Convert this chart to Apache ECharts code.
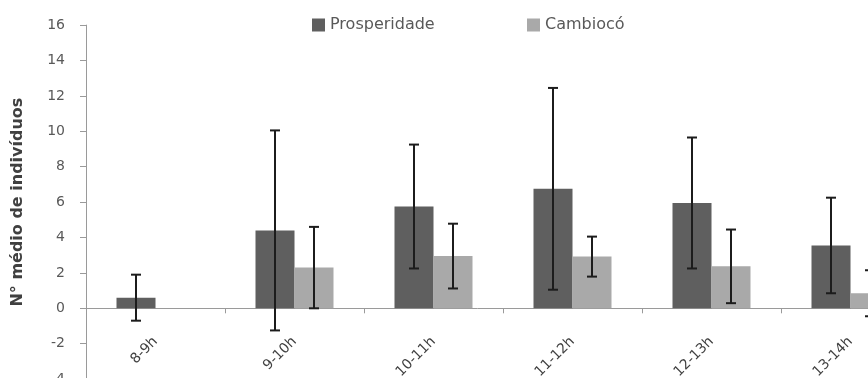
<!DOCTYPE html>
<html>
<head>
<meta charset="utf-8">
<script src="https://cdn.jsdelivr.net/npm/echarts@6/dist/echarts.min.js"></script>
<style>
html,body{margin:0;padding:0;background:#fff;}
#main{width:868px;height:378px;}
</style>
</head>
<body>
<div id="main"></div>
<script>
var categories = ['8-9h', '9-10h', '10-11h', '11-12h', '12-13h', '13-14h'];
var prosperidade = [0.6, 4.4, 5.75, 6.75, 5.95, 3.55];
var prosperidadeErr = [1.3, 5.65, 3.5, 5.7, 3.7, 2.7];
var cambioco = [0, 2.3, 2.95, 2.92, 2.37, 0.85];
var cambiocoErr = [0, 2.3, 1.83, 1.13, 2.08, 1.3];
var yTicks = [-4, -2, 0, 2, 4, 6, 8, 10, 12, 14, 16];

var BAR_W = 39;
var FONT = '"DejaVu Sans", "Liberation Sans", sans-serif';
var GRID_TOP = 25.1, GRID_H = 354, Y_MIN = -4, Y_MAX = 16;
var ZERO_SHIFT = GRID_H * (0 - Y_MIN) / (Y_MAX - Y_MIN);

function errSeries(means, errs, offset) {
  return {
    type: 'custom',
    silent: true,
    z: 10,
    data: means.map(function (m, i) { return [i, m, errs[i]]; }),
    encode: { x: 0, y: 1 },
    renderItem: function (params, api) {
      var e = api.value(2);
      if (!e) return null;
      var i = api.value(0), m = api.value(1);
      var top = api.coord([i, m + e]);
      var bot = api.coord([i, m - e]);
      var x = top[0] + offset;
      var cap = 5;
      var st = { stroke: '#1c1c1c', lineWidth: 2 };
      return {
        type: 'group',
        children: [
          { type: 'line', shape: { x1: x, y1: top[1], x2: x, y2: bot[1] }, style: st },
          { type: 'line', shape: { x1: x - cap, y1: top[1], x2: x + cap, y2: top[1] }, style: st },
          { type: 'line', shape: { x1: x - cap, y1: bot[1], x2: x + cap, y2: bot[1] }, style: st }
        ]
      };
    }
  };
}

var legendCommon = {
  top: 17, padding: 0, itemWidth: 13, itemHeight: 13, icon: 'rect', itemGap: 5,
  textStyle: { fontSize: 16, color: '#595959', fontFamily: FONT }
};

var chart = echarts.init(document.getElementById('main'), null, { renderer: 'canvas' });
chart.setOption({
  animation: false,
  backgroundColor: '#ffffff',
  textStyle: { fontFamily: FONT },
  legend: [
    Object.assign({ left: 312, data: ['Prosperidade'] }, legendCommon),
    Object.assign({ left: 527, data: ['Cambiocó'] }, legendCommon)
  ],
  grid: { left: 86, top: GRID_TOP, width: 834, height: GRID_H, containLabel: false, outerBoundsMode: 'none' },
  xAxis: {
    type: 'category',
    data: categories,
    offset: -ZERO_SHIFT,
    axisLine: { onZero: false, lineStyle: { color: '#9a9a9a', width: 1 } },
    axisTick: { show: true, length: 5, lineStyle: { color: '#9a9a9a' } },
    axisLabel: { rotate: 45, margin: 31, fontSize: 14, color: '#404040', fontFamily: FONT }
  },
  yAxis: {
    type: 'value',
    min: Y_MIN, max: Y_MAX, interval: 2,
    name: 'N° médio de indivíduos',
    nameLocation: 'middle',
    nameRotate: 90,
    nameGap: 60,
    nameTextStyle: { fontSize: 16, fontWeight: 'bold', color: '#404040', fontFamily: FONT },
    axisLine: { show: true, lineStyle: { color: '#9a9a9a' } },
    axisTick: { show: true, length: 6, lineStyle: { color: '#9a9a9a' } },
    axisLabel: { margin: 21, fontSize: 14, color: '#595959', fontFamily: FONT,
      formatter: function (v) { return yTicks.indexOf(v) >= 0 ? String(v) : ''; } },
    splitLine: { show: false }
  },
  series: [
    { name: 'Prosperidade', type: 'bar', data: prosperidade, barWidth: BAR_W, barGap: '0%',
      itemStyle: { color: '#5f5f5f' } },
    { name: 'Cambiocó', type: 'bar', data: cambioco, barWidth: BAR_W, barGap: '0%',
      itemStyle: { color: '#a9a9a9' } },
    errSeries(prosperidade, prosperidadeErr, -BAR_W / 2),
    errSeries(cambioco, cambiocoErr, BAR_W / 2)
  ]
});
</script>
</body>
</html>
